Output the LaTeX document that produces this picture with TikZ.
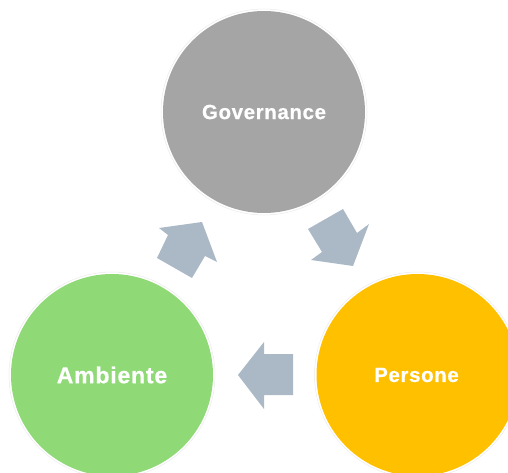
\documentclass[tikz,border=0pt]{standalone}
\usepackage{fontspec}
\setmainfont{Liberation Sans}
\definecolor{govgray}{HTML}{A5A5A5}
\definecolor{perorange}{HTML}{FFC000}
\definecolor{ambgreen}{HTML}{90D977}
\definecolor{arrowblue}{HTML}{ABB8C5}
\definecolor{ringgray}{HTML}{EAEAEA}
\newfontfamily\labelfont[BoldFeatures={LetterSpace=3,FakeBold=0.6}]{Liberation Sans}
\newfontfamily\widelabelfont[BoldFeatures={LetterSpace=3.5,FakeBold=0.6}]{Liberation Sans}
\tikzset{
  ball/.style={circle,draw=none,minimum size=202bp,inner sep=0pt,text=white,font=\labelfont\bfseries\fontsize{20.5bp}{24bp}\selectfont},
  ring/.style={draw=ringgray,line width=0.5bp},
  flow/.style={fill=arrowblue,draw=none}
}
\begin{document}
\begin{tikzpicture}[x=1bp,y=-1bp]
\useasboundingbox (0,0) rectangle (508,473);
\clip (0,0) rectangle (508,473);
\node[ball,fill=govgray] (gov) at (264,112) {Governance};
\node[ball,fill=perorange] (per) at (417.5,375) {Persone\kern2bp};
\node[ball,fill=ambgreen,font=\widelabelfont\bfseries\fontsize{23bp}{26bp}\selectfont] (amb) at (112,375) {Ambiente};
\draw[ring] (gov.center) circle[radius=103bp];
\draw[ring] (per.center) circle[radius=103bp];
\draw[ring] (amb.center) circle[radius=103bp];
\fill[flow] (202,222) -- (159,228) -- (168,235) -- (157,258) -- (192,278) -- (205,256) -- (217,262) -- cycle;
\fill[flow] (353,266) -- (311,260) -- (322,252) -- (308,229) -- (343,209) -- (357,233) -- (369,224) -- cycle;
\fill[flow] (238,375) -- (264,342) -- (264,354) -- (293,354) -- (293,395) -- (264,395) -- (264,409) -- cycle;
\end{tikzpicture}
\end{document}
